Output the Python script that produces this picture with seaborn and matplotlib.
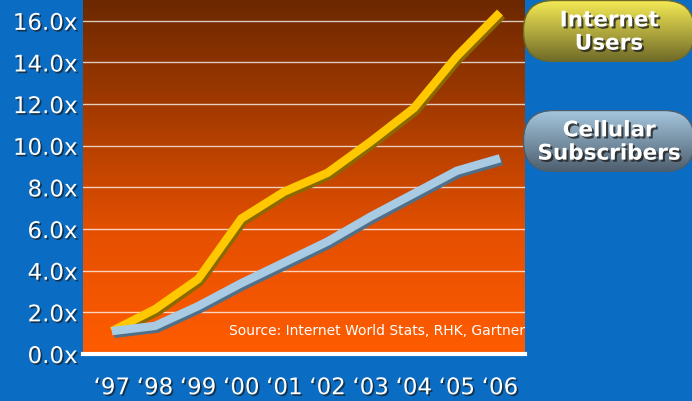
import numpy as np
import pandas as pd
import matplotlib
matplotlib.use("Agg")
import matplotlib.pyplot as plt
import matplotlib.patheffects as pe
from matplotlib.patches import FancyBboxPatch
from matplotlib.colors import LinearSegmentedColormap
import seaborn as sns

years = ["‘97", "‘98", "‘99", "‘00", "‘01", "‘02", "‘03", "‘04", "‘05", "‘06"]
internet_users = [1.1, 2.15, 3.6, 6.5, 7.8, 8.7, 10.2, 11.8, 14.3, 16.4]
cellular_subs = [1.1, 1.35, 2.3, 3.4, 4.4, 5.4, 6.6, 7.7, 8.8, 9.4]
y_ticks = [0, 2, 4, 6, 8, 10, 12, 14, 16]
series_names = ["Internet Users", "Cellular Subscribers"]
source_text = "Source: Internet World Stats, RHK, Gartner"

sns.set_theme(style="white")
plt.rcParams['font.family'] = ['DejaVu Sans']

BG = "#0a6cc2"
fig = plt.figure(figsize=(6.92, 4.01), dpi=100, facecolor=BG)
ax = fig.add_axes([83/692, 47/401, (525-83)/692, 354/401])

df = pd.DataFrame({
    "x": list(range(len(years))) * 2,
    "value": internet_users + cellular_subs,
    "series": [series_names[0]] * len(years) + [series_names[1]] * len(years),
})

palette = {series_names[0]: "#ffc800", series_names[1]: "#a8cbe3"}
sns.lineplot(data=df, x="x", y="value", hue="series", palette=palette, ax=ax,
             linewidth=6, legend=False, zorder=3, sort=False)
shadows = ["#8a6a00", "#4f7088"]
for i, line in enumerate(ax.get_lines()):
    line.set_solid_capstyle("butt")
    line.set_solid_joinstyle("miter")
    line.set_path_effects([
        pe.SimpleLineShadow(offset=(1.5, -2), shadow_color=shadows[i % 2], alpha=1.0),
        pe.Normal(),
    ])

# gradient background
grad = np.linspace(0, 1, 256).reshape(-1, 1)
bg_cmap = LinearSegmentedColormap.from_list("bg", ["#ff5c00", "#e65000", "#a83c00", "#6c2800"])
ax.imshow(grad, aspect="auto", cmap=bg_cmap, extent=[-0.67, 9.58, 0, 17],
          origin="lower", zorder=0)

for t in y_ticks[1:]:
    ax.axhline(t, color="white", lw=1.0, alpha=0.75, zorder=1)

ax.set_xlim(-0.67, 9.58)
ax.set_ylim(0, 17)
ax.set_xticks(range(len(years)))
ax.set_xticklabels(years)
ax.set_yticks(y_ticks)
ax.set_yticklabels([f"{v:.1f}x" for v in y_ticks])
ax.set_xlabel("")
ax.set_ylabel("")
for s in ["top", "right", "left"]:
    ax.spines[s].set_visible(False)
ax.spines["bottom"].set_color("white")
ax.spines["bottom"].set_linewidth(3)
ax.tick_params(axis="both", length=0, colors="white", labelsize=16.5)
ax.tick_params(axis="x", pad=16)
ax.tick_params(axis="y", pad=4)
shadow_fx = [pe.withSimplePatchShadow(offset=(1.2, -1.2), shadow_rgbFace="#1a1a1a", alpha=0.7)]
for lab in ax.get_xticklabels() + ax.get_yticklabels():
    lab.set_color("white")
    lab.set_path_effects(shadow_fx)

ax.text(9.58, 1.12, source_text, ha="right", va="center", color="white",
        fontsize=10, zorder=4)

# legend pills
def pill(x0, y0, w, h, c_top, c_bot, label):
    px0, py0 = x0 / 692, 1 - (y0 + h) / 401
    pw, ph = w / 692, h / 401
    ax2 = fig.add_axes([px0, py0, pw, ph])
    ax2.set_axis_off()
    ax2.set_xlim(0, w); ax2.set_ylim(0, h)
    cmap = LinearSegmentedColormap.from_list("p", [c_bot, c_top])
    box = FancyBboxPatch((0.5, 0.5), w - 1, h - 1,
                         boxstyle=f"round,pad=0,rounding_size={h/2 - 1}",
                         facecolor="none", edgecolor=c_bot, lw=1.0, zorder=3)
    ax2.add_patch(box)
    im = ax2.imshow(np.linspace(0, 1, 64).reshape(-1, 1), cmap=cmap, origin="lower",
                    aspect="auto", extent=[0, w, 0, h], zorder=1)
    im.set_clip_path(box)
    ax2.set_xlim(0, w); ax2.set_ylim(0, h)
    ax2.text(w / 2, h / 2 - 1, label, ha="center", va="center", color="white",
             fontsize=15.5, fontweight="bold", linespacing=1.2, zorder=4,
             path_effects=[pe.withSimplePatchShadow(offset=(1.5, -1.5), shadow_rgbFace="#222222", alpha=0.8)])

pill(523, 0, 172, 62, "#f5ea55", "#6f6a28", "Internet\nUsers")
pill(523, 110, 172, 62, "#a6c8e0", "#4d5e6e", "Cellular\nSubscribers")

fig.savefig("out.png", dpi=100, facecolor=BG)
